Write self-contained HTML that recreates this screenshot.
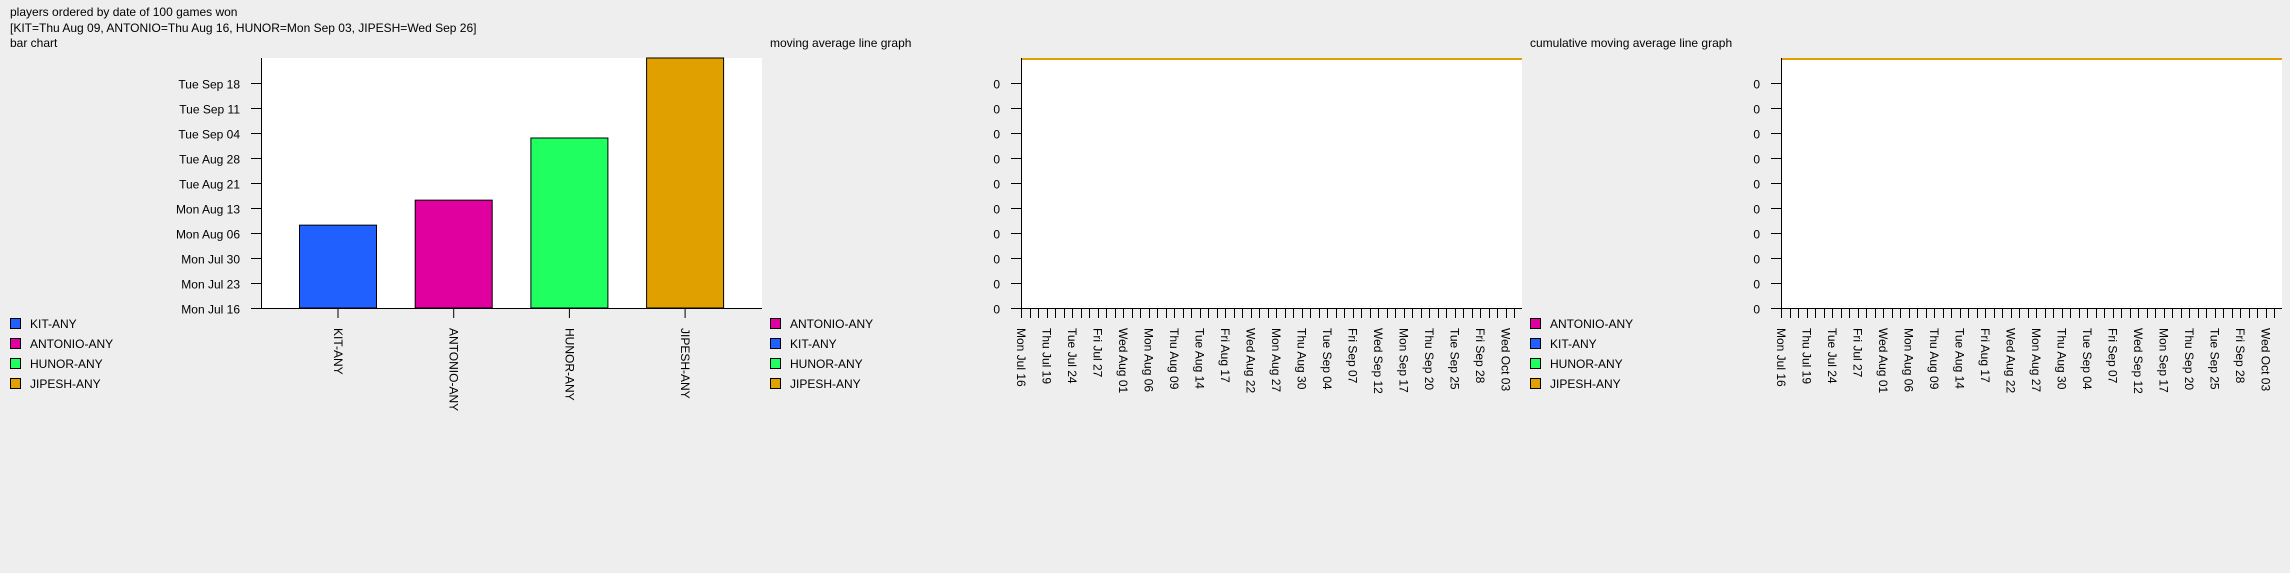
<!DOCTYPE html>
<html><head><meta charset="utf-8">
<style>
html,body{margin:0;padding:0;background:#eeeeee;}
body{width:2290px;height:568px;overflow:hidden;font-family:"Liberation Sans",sans-serif;}
svg text{font-family:"Liberation Sans",sans-serif;font-size:12px;fill:#000;}
</style></head>
<body>
<svg id="root" width="2290" height="568" xmlns="http://www.w3.org/2000/svg">
<text x="10" y="16">players ordered by date of 100 games won</text>
<text x="10" y="32">[KIT=Thu Aug 09, ANTONIO=Thu Aug 16, HUNOR=Mon Sep 03, JIPESH=Wed Sep 26]</text>
<text x="10" y="47">bar chart</text>
<text x="770" y="47">moving average line graph</text>
<text x="1530" y="47">cumulative moving average line graph</text>
<g id="bar"></g>
<g id="ma"></g>
<g id="cma"></g>
</svg>
<script>
// Bar chart data (days after Mon Jul 16)
const barCategories = ["KIT-ANY","ANTONIO-ANY","HUNOR-ANY","JIPESH-ANY"];
const barValues = [23.2, 30.2, 47.6, 72];
const barColors = ["#2060ff","#e000a0","#20ff60","#e0a000"];
const barTickLabels = ["Mon Jul 16","Mon Jul 23","Mon Jul 30","Mon Aug 06","Mon Aug 13","Tue Aug 21","Tue Aug 28","Tue Sep 04","Tue Sep 11","Tue Sep 18"];
const barTickValues = [0,7,14,21,28,35,42,49,56,63];
const barYMax = 70;

// Line chart data
const lineSeriesNames = ["ANTONIO-ANY","KIT-ANY","HUNOR-ANY","JIPESH-ANY"];
const lineColors = ["#e000a0","#2060ff","#20ff60","#e0a000"];
const lineDateLabels = ["Mon Jul 16","Thu Jul 19","Tue Jul 24","Fri Jul 27","Wed Aug 01","Mon Aug 06","Thu Aug 09","Tue Aug 14","Fri Aug 17","Wed Aug 22","Mon Aug 27","Thu Aug 30","Tue Sep 04","Fri Sep 07","Wed Sep 12","Mon Sep 17","Thu Sep 20","Tue Sep 25","Fri Sep 28","Wed Oct 03"];
const lineYTickLabels = ["0","0","0","0","0","0","0","0","0","0"];
const maAntonio = [1,1,1,1,1,1,1,1,1,1,1,1,1,1,1,1,1,1,1,1,1,1,1,1,1,1,1,1,1,1,1,1,1,1,1,1,1,1,1,1,1,1,1,1,1,1,1,1,1,1,1,1,1,1,1,1,1,1];
const maKit = [1,1,1,1,1,1,1,1,1,1,1,1,1,1,1,1,1,1,1,1,1,1,1,1,1,1,1,1,1,1,1,1,1,1,1,1,1,1,1,1,1,1,1,1,1,1,1,1,1,1,1,1,1,1,1,1,1,1];
const maHunor = [1,1,1,1,1,1,1,1,1,1,1,1,1,1,1,1,1,1,1,1,1,1,1,1,1,1,1,1,1,1,1,1,1,1,1,1,1,1,1,1,1,1,1,1,1,1,1,1,1,1,1,1,1,1,1,1,1,1];
const maJipesh = [1,1,1,1,1,1,1,1,1,1,1,1,1,1,1,1,1,1,1,1,1,1,1,1,1,1,1,1,1,1,1,1,1,1,1,1,1,1,1,1,1,1,1,1,1,1,1,1,1,1,1,1,1,1,1,1,1,1];
const lineYMax = 1;

const NS="http://www.w3.org/2000/svg";
function mk(parent,tag,attrs,text){
  const e=document.createElementNS(NS,tag);
  for(const k in attrs) e.setAttribute(k,attrs[k]);
  if(text!==undefined) e.textContent=text;
  parent.appendChild(e); return e;
}
const TOP=58, BOT=308;

function legend(g,ox,names,colors){
  names.forEach((n,i)=>{
    const y=318+i*20;
    const r=mk(g,"rect",{x:ox+10.5,y:y+0.5,width:10,height:10,fill:colors[i],stroke:"#000"});
    
    
    const t=mk(g,"text",{x:ox+30,y:y+10},n);
    
    
  });
}

// Bar chart
(function(){
  const g=document.getElementById("bar");
  const L=261,R=762;
  const y=v=>BOT-(v/barYMax)*(BOT-TOP);
  const x=i=>L+77+i*115.7;
  const bg=mk(g,"rect",{x:L,y:TOP,width:R-L,height:BOT-TOP,fill:"#fff"});
  
  
  barValues.forEach((v,i)=>{
    const top=Math.max(TOP,y(v));
    const b=mk(g,"rect",{x:x(i)-38.5,y:top,width:77,height:BOT-top,fill:barColors[i],stroke:"#000"});
    
    
    mk(g,"line",{x1:x(i),x2:x(i),y1:BOT,y2:BOT+10,stroke:"#000"});
    const t=mk(g,"text",{transform:`translate(${x(i)-4},${BOT+20}) rotate(90)`},barCategories[i]);
    
    
  });
  barTickValues.forEach((v,i)=>{
    const yy=Math.round(y(v))+0.5;
    mk(g,"line",{x1:L-10,x2:L,y1:yy,y2:yy,stroke:"#000"});
    const t=mk(g,"text",{x:L-21,y:yy+5,"text-anchor":"end"},barTickLabels[i]);
    
    
  });
  mk(g,"line",{x1:L+0.5,x2:L+0.5,y1:TOP,y2:BOT,stroke:"#000"});
  mk(g,"line",{x1:L-10,x2:R,y1:BOT+0.5,y2:BOT+0.5,stroke:"#000"});
  legend(g,0,barCategories,barColors);
})();

// Line charts
function lineChart(id,ox){
  const g=document.getElementById(id);
  const L=ox+261,R=ox+762;
  const n=maJipesh.length;
  const step=8.5;
  const x=i=>L+i*step;
  const xl=i=>L+i*(R-L)/(n-1);
  const y=v=>BOT-(v/lineYMax)*(BOT-TOP);
  const bg=mk(g,"rect",{x:L,y:TOP,width:R-L,height:BOT-TOP,fill:"#fff"});
  
  
  lineYTickLabels.forEach((lab,i)=>{
    const yy=BOT-i*25+0.5;
    mk(g,"line",{x1:L-10,x2:L,y1:yy,y2:yy,stroke:"#000"});
    const t=mk(g,"text",{x:L-21,y:yy+5,"text-anchor":"end"},lab);
    
    
  });
  for(let i=0;i<n+1;i++){
    const xx=Math.round(x(i))+0.5;
    mk(g,"line",{x1:xx,x2:xx,y1:BOT,y2:BOT+10,stroke:"#000"});
  }
  lineDateLabels.forEach((lab,i)=>{
    const xx=x(i*3);
    const t=mk(g,"text",{transform:`translate(${xx-4},${BOT+20}) rotate(90)`},lab);
    
    
  });
  [maAntonio,maKit,maHunor,maJipesh].forEach((s,k)=>{
    const d=s.map((v,i)=>(i?"L":"M")+xl(i)+","+(y(v)+1)).join(" ");
    const p=mk(g,"path",{d:d,fill:"none",stroke:lineColors[k],"stroke-width":2});
    
    
  });
  mk(g,"line",{x1:L+0.5,x2:L+0.5,y1:TOP,y2:BOT,stroke:"#000"});
  mk(g,"line",{x1:L-10,x2:R,y1:BOT+0.5,y2:BOT+0.5,stroke:"#000"});
  legend(g,ox,lineSeriesNames,lineColors);
}
lineChart("ma",760);
lineChart("cma",1520);
</script>
</body></html>
